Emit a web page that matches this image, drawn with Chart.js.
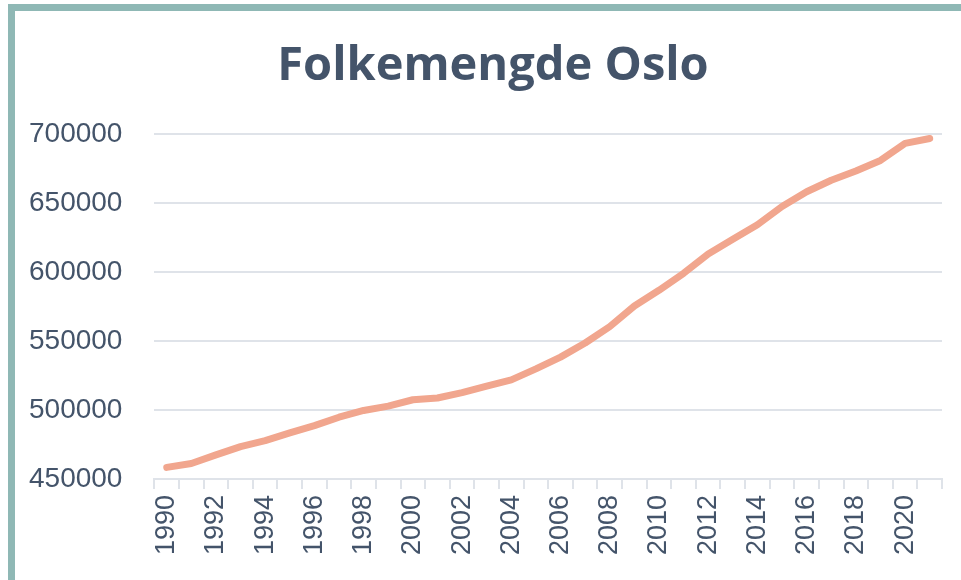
<!DOCTYPE html>
<html>
<head>
<meta charset="utf-8">
<script src="https://cdn.jsdelivr.net/npm/chart.js@4.4.1/dist/chart.umd.min.js"></script>
<style>
  body { margin: 0; background: #fff; }
  #frame {
    position: absolute; left: 8px; top: 4px; right: 0; bottom: 0;
    border-top: 7px solid #8FB8B5; border-left: 7px solid #8FB8B5;
  }
  #wrap { position: absolute; left: 0; top: 0; width: 961px; height: 580px; }
</style>
</head>
<body>
<div id="frame"></div>
<div id="wrap"><canvas id="popChart"></canvas></div>
<script>
// years on the x axis
let years = []
for (let y = 1990; y <= 2021; y++) years.push(String(y))

// population of Oslo
let population = [
  458364, 461190, 467441, 473454, 477781, 483401, 488659, 494793,
  499693, 502867, 507467, 508726, 512589, 517401, 521886, 529846,
  538411, 548617, 560484, 575475, 586860, 599230, 613285, 623966,
  634463, 647676, 658390, 666759, 673469, 681067, 693494, 697010
]

let yMin = 450000
let yMax = 700000
let yStep = 50000

let textColor = '#44546A'
let gridColor = '#DFE3E9'

let ctx = document.getElementById('popChart').getContext('2d')

let popChart = new Chart(ctx, {
  type: 'line',
  data: {
    labels: years,
    datasets: [{
      label: 'Folkemengde',
      data: population,
      borderColor: '#F1A68E',
      borderWidth: 7,
      borderCapStyle: 'round',
      borderJoinStyle: 'round',
      pointRadius: 0,
      tension: 0,
      fill: false
    }]
  },
  options: {
    responsive: true,
    maintainAspectRatio: false,
    animation: false,
    layout: {
      padding: { top: 14, left: -3, right: 19, bottom: 19 }
    },
    plugins: {
      legend: { display: false },
      tooltip: { enabled: false },
      title: {
        display: true,
        text: '\u2003Folkemengde Oslo', // leading em space nudges it right like the original
        color: textColor,
        font: { family: '"Open Sans", sans-serif', size: 47, weight: 'bold' },
        padding: { top: 24, bottom: 40 }
      }
    },
    scales: {
      x: {
        offset: true,
        grid: {
          offset: true,
          drawOnChartArea: false,
          drawTicks: true,
          tickLength: 10,
          color: gridColor,
          lineWidth: 2
        },
        border: { display: true, color: gridColor, width: 2 },
        ticks: {
          autoSkip: false,
          minRotation: 90,
          maxRotation: 90,
          padding: 6,
          color: textColor,
          font: { family: '"Liberation Sans", Arial, sans-serif', size: 27, lineHeight: 0.9 },
          callback: function (value, index) {
            return index % 2 === 0 ? years[index] : ''
          }
        }
      },
      y: {
        min: yMin,
        max: yMax,
        grid: {
          drawTicks: false,
          color: gridColor,
          lineWidth: 2
        },
        border: { display: false },
        ticks: {
          stepSize: yStep,
          padding: 32,
          color: textColor,
          font: { family: '"Liberation Sans", Arial, sans-serif', size: 28 },
          callback: function (value) { return String(value) }
        }
      }
    }
  }
})
</script>
</body>
</html>
